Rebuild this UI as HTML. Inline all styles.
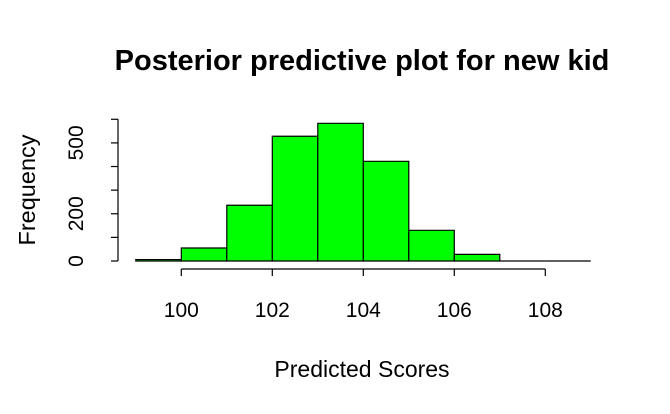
<!DOCTYPE html>
<html><head><meta charset="utf-8"><style>
body{margin:0;background:#fff}
svg{display:block;font-family:"Liberation Sans",Arial,sans-serif}
</style></head><body>
<svg id="chart" width="670" height="414">
<text x="362" y="70" text-anchor="middle" font-size="29" font-weight="bold">Posterior predictive plot for new kid</text>
<text x="362" y="377" text-anchor="middle" font-size="23">Predicted Scores</text>
<text transform="translate(35,190) rotate(-90)" text-anchor="middle" font-size="23.5">Frequency</text>
<g id="bars"></g><g id="axes"></g>
</svg>
<script>
const binStarts=[99,100,101,102,103,104,105,106,107,108];
const counts=[6,55,236,528,583,422,130,28,0,0];
const xTicks=[100,102,104,106,108];
const yTicks=[0,100,200,300,400,500,600];
const yLabels=[0,200,500];
const ns="http://www.w3.org/2000/svg";
const X=v=>181.3+(v-100)*45.5;
const Y=v=>261-v*0.2362;
function mk(tag,attrs,parent){const e=document.createElementNS(ns,tag);for(const k in attrs)e.setAttribute(k,attrs[k]);parent.appendChild(e);return e;}
const bars=document.getElementById('bars'),axes=document.getElementById('axes');
binStarts.forEach((b,i)=>{
  const x0=X(b),x1=X(b+1),y=Y(counts[i]);
  const r=mk('path',{d:`M${x0},261V${y}H${x1}V261Z`,fill:'#00ff00',stroke:'#000','stroke-width':1.2},bars);
  
  
});
const xl=mk('line',{x1:X(100),x2:X(108),y1:269,y2:269,stroke:'#000','stroke-width':1.2},axes);


xTicks.forEach(t=>{
  mk('line',{x1:X(t),x2:X(t),y1:269,y2:276,stroke:'#000','stroke-width':1.2},axes);
  const tx=mk('text',{x:X(t),y:317,'text-anchor':'middle','font-size':21},axes);tx.textContent=t;
  
  
});
const yl=mk('line',{x1:118,x2:118,y1:Y(0),y2:Y(600),stroke:'#000','stroke-width':1.2},axes);


yTicks.forEach(t=>{mk('line',{x1:111,x2:118,y1:Y(t),y2:Y(t),stroke:'#000','stroke-width':1.2},axes);});
yLabels.forEach(t=>{
  const tx=mk('text',{transform:`translate(83,${Y(t)}) rotate(-90)`,'text-anchor':'middle','font-size':21},axes);tx.textContent=t;
  
  
});
</script>
</body></html>
